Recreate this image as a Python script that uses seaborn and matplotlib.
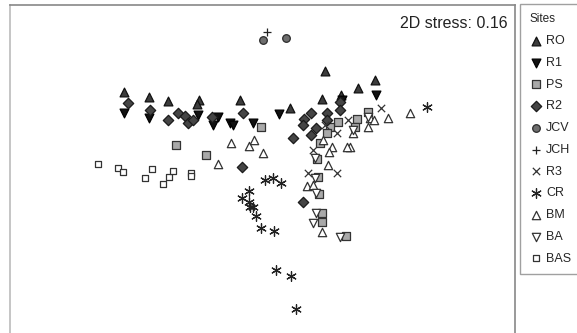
import matplotlib.pyplot as plt
import pandas as pd
import seaborn as sns

# %% NMDS scores

ro_x = [-1.36, -1.11, -0.92, -0.61, -0.63, -0.20, 0.30, 0.62, 0.65, 0.81, 0.98, 1.15]
ro_y = [0.78, 0.73, 0.69, 0.70, 0.66, 0.70, 0.62, 0.71, 0.99, 0.75, 0.82, 0.90]

r1_x = [-1.36, -1.11, -0.62, -0.42, -0.47, -0.30, -0.27, -0.07, 0.19, 0.82, 1.16]
r1_y = [0.57, 0.52, 0.55, 0.53, 0.45, 0.47, 0.45, 0.47, 0.56, 0.70, 0.75]

ps_x = [-0.84, -0.54, 0.01, 1.08, 0.97, 0.78, 0.70, 0.67, 0.60, 0.57, 0.95, 0.58, 0.59, 0.62, 0.62, 0.86]
ps_y = [0.25, 0.15, 0.43, 0.58, 0.51, 0.48, 0.43, 0.37, 0.27, 0.11, 0.43, -0.07, -0.24, -0.43, -0.52, -0.66]

r2_x = [-1.32, -1.10, -0.92, -0.82, -0.75, -0.72, -0.67, -0.48, -0.17, -0.18, 0.80,
        0.80, 0.67, 0.51, 0.44, 0.43, 0.56, 0.33, 0.51, 0.67, 0.43]
r2_y = [0.67, 0.60, 0.50, 0.57, 0.54, 0.47, 0.50, 0.53, 0.57, 0.03, 0.68,
        0.60, 0.57, 0.57, 0.51, 0.45, 0.42, 0.32, 0.35, 0.50, -0.32]

jcv_x = [0.03, 0.26]
jcv_y = [1.30, 1.32]

jch_x = [0.07]
jch_y = [1.38]

r3_x = [1.21, 0.88, 0.53, 0.77, 0.77, 0.48, 0.65]
r3_y = [0.62, 0.50, 0.20, 0.37, -0.03, -0.03, 0.45]

cr_x = [1.67, 0.05, 0.13, 0.21, -0.11, -0.18, -0.11, -0.10, -0.07, -0.04, 0.01, 0.14, 0.16, 0.31, 0.36]
cr_y = [0.63, -0.10, -0.08, -0.13, -0.21, -0.28, -0.32, -0.37, -0.37, -0.46, -0.58, -0.61, -1.00, -1.06, -1.39]

bm_x = [-0.29, -0.11, -0.06, 0.03, -0.42, 1.10, 1.28, 1.50, 1.08, 0.93,
        0.90, 0.87, 0.72, 0.68, 0.63, 0.47, 0.53, 0.62, 0.69, 1.14]
bm_y = [0.27, 0.24, 0.30, 0.17, 0.06, 0.52, 0.52, 0.57, 0.43, 0.37,
        0.23, 0.23, 0.23, 0.05, 0.30, -0.16, -0.15, -0.62, 0.18, 0.50]

ba_x = [1.08, 0.93, 0.55, 0.55, 0.56, 0.56, 0.53, 0.80]
ba_y = [0.53, 0.40, 0.12, -0.08, -0.23, -0.43, -0.53, -0.67]

bas_x = [-1.62, -1.42, -1.37, -1.08, -1.15, -0.97, -0.91, -0.87, -0.69, -0.69]
bas_y = [0.06, 0.02, -0.02, 0.01, -0.08, -0.14, -0.07, -0.01, -0.03, -0.06]

sites = ["RO", "R1", "PS", "R2", "JCV", "JCH", "R3", "CR", "BM", "BA", "BAS"]
xs = [ro_x, r1_x, ps_x, r2_x, jcv_x, jch_x, r3_x, cr_x, bm_x, ba_x, bas_x]
ys = [ro_y, r1_y, ps_y, r2_y, jcv_y, jch_y, r3_y, cr_y, bm_y, ba_y, bas_y]

df = pd.concat(
    [pd.DataFrame({"NMDS1": x, "NMDS2": y, "site": s}) for s, x, y in zip(sites, xs, ys)],
    ignore_index=True,
)

# marker, face, edge, size
styles = {
    "RO": ("^", "#3c3c3c", "#111111", 40),
    "R1": ("v", "#111111", "#000000", 40),
    "PS": ("s", "#a9a9a9", "#333333", 30),
    "R2": ("D", "#454545", "#1a1a1a", 28),
    "JCV": ("o", "#6e6e6e", "#2a2a2a", 30),
    "JCH": ("+", "#222222", None, 40),
    "R3": ("x", "#333333", None, 28),
    "CR": ((6, 2, 0), "#222222", None, 48),
    "BM": ("^", "white", "#333333", 36),
    "BA": ("v", "white", "#333333", 36),
    "BAS": ("s", "white", "#333333", 22),
}

# %% plot

sns.set_style("white")
plt.rcParams["font.family"] = ["Liberation Sans", "DejaVu Sans"]

fig = plt.figure(figsize=(5.77, 3.33), dpi=100)
ax = fig.add_axes([10 / 577, 0, 505 / 577, 328 / 333])

for s in sites:
    m, fc, ec, sz = styles[s]
    d = df[df["site"] == s]
    if ec is None:
        sns.scatterplot(data=d, x="NMDS1", y="NMDS2", marker=m, color=fc, s=sz,
                        linewidth=0.9, label=s, ax=ax)
    else:
        sns.scatterplot(data=d, x="NMDS1", y="NMDS2", marker=m, color=fc, edgecolor=ec,
                        s=sz, linewidth=0.9, label=s, ax=ax)

ax.set_xlim(-2.50, 2.55)
ax.set_ylim(-1.63, 1.65)
ax.set_xticks([])
ax.set_yticks([])
ax.set_xlabel("")
ax.set_ylabel("")
for side in ["left", "top", "right"]:
    ax.spines[side].set_color("#888888")
    ax.spines[side].set_linewidth(1.2)
ax.spines["left"].set_color("#bbbbbb")
ax.spines["bottom"].set_visible(False)

ax.text(0.985, 0.965, "2D stress: 0.16", transform=ax.transAxes, ha="right", va="top",
        fontsize=11.5, color="#222222")

handles, labels = ax.get_legend_handles_labels()
ax.legend_.remove()
leg = fig.legend(handles, labels, title="Sites", loc="upper left",
                 bbox_to_anchor=(520 / 577, 1 - 4 / 333), borderaxespad=0,
                 fontsize=9, title_fontsize=8.5, labelspacing=0.78, handletextpad=0.35,
                 handlelength=1.0, borderpad=0.75, alignment="left", frameon=True,
                 fancybox=False, edgecolor="#888888")
leg.get_frame().set_linewidth(1.0)

fig.savefig("out.png", dpi=100, facecolor="w")
